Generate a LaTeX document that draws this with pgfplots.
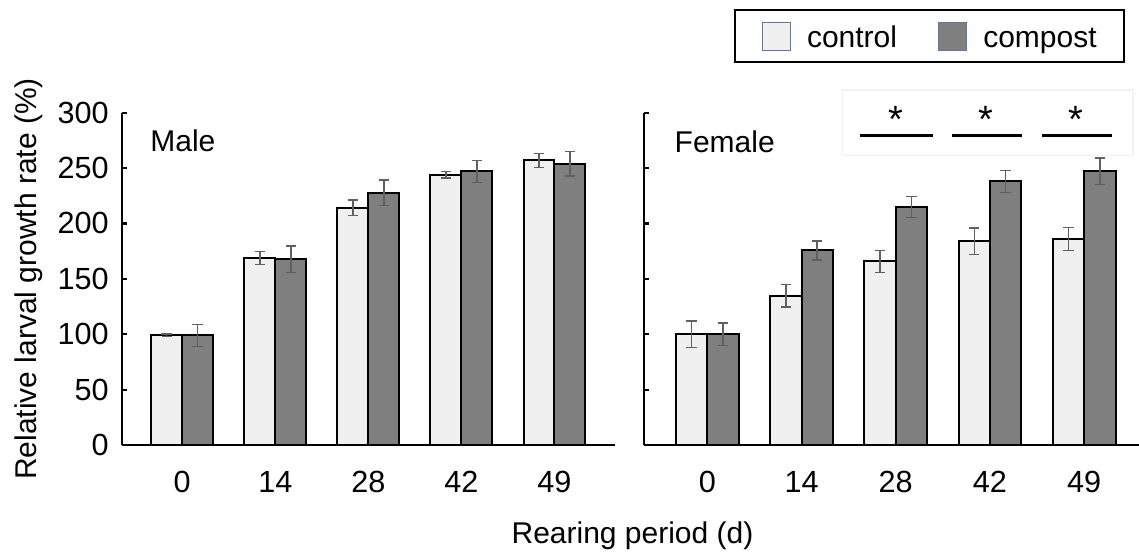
\documentclass[border=0pt]{standalone}
\usepackage{pgfplots}
\pgfplotsset{compat=1.18}
\usepackage{pgfplotstable}
\usepackage{fontspec}
\setmainfont{Liberation Sans}
\definecolor{ctrlfill}{HTML}{F0F0F0}
\definecolor{compfill}{HTML}{7F7F7F}
\definecolor{errcol}{HTML}{606060}
\definecolor{legborder}{HTML}{6A7690}

\pgfplotstableread{
x c ce p pe
0 99 1 99 10
1 168.8 6 167.6 12
2 214.3 7 227.8 11.5
3 244 3 247 10
4 257 6.3 254 11
}\male
\pgfplotstableread{
x c ce p pe
0 100 12 100 10
1 134.8 10 175.7 8.5
2 165.8 10 214.9 9.5
3 183.9 12 238 10
4 186 10.5 247 12
}\female

\pgfplotsset{
  panel/.style={
    scale only axis,
    height=166.15pt,
    ymin=0, ymax=300,
    axis x line*=bottom, axis y line*=left,
    axis line style={line width=1.1pt, black},
    ytick={0,50,...,300},
    xtick={0,1,2,3,4},
    xticklabels={0,14,28,42,49},
    xtick style={draw=none},
    ytick style={line width=1.1pt, black},
    major tick length=2.5pt,
    tick align=inside,
    /pgf/number format/assume math mode=true,
    tick label style={font=\fontsize{15.3}{18}\selectfont},
    yticklabel style={inner sep=0pt, anchor=east, xshift=-6.3pt},
    xticklabel style={inner sep=0pt, anchor=north, yshift=-13pt},
    clip=false,
  },
  ctrlbar/.style={ybar, bar width=0.333, bar shift=0pt, fill=ctrlfill, draw=black, line width=1pt},
  compbar/.style={ybar, bar width=0.333, bar shift=0pt, fill=compfill, draw=black, line width=1pt},
  errs/.style={error bars/.cd, y dir=both, y explicit,
    error bar style={errcol, line width=0.75pt},
    error mark options={rotate=90, mark size=2.6pt, errcol, line width=0.75pt}},
}

\begin{document}
\begin{tikzpicture}[font=\fontsize{15}{18}\selectfont]
\path[use as bounding box] (0,0) rectangle (569.5pt,277.5pt);

% Male
\begin{axis}[panel, at={(60.85pt,55pt)}, anchor=south west,
  width=246.65pt, xmin=-0.65, xmax=4.65,
  ylabel={Relative larval growth rate (\%)},
  every axis y label/.style={at={(axis description cs:-0.1737,0.5)}, rotate=90, anchor=base, font=\fontsize{15}{18}\selectfont}]
\addplot[ctrlbar, errs] table[x expr=\thisrow{x}-0.1665, y=c, y error=ce] {\male};
\addplot[compbar, errs] table[x expr=\thisrow{x}+0.1665, y=p, y error=pe] {\male};
\node[anchor=base west, inner sep=0pt] at (rel axis cs:0.0574,0.8826) {Male};
\end{axis}

% Female
\begin{axis}[panel, at={(322pt,55pt)}, anchor=south west,
  width=247.25pt, xmin=-0.672, xmax=4.577,
  yticklabels={},
  legend columns=2,
  legend style={at={(axis description cs:0.972,1.312)}, anchor=north east,
    draw=black, line width=1pt, inner xsep=13.5pt, inner ysep=5.8pt,
    font=\fontsize{15}{18}\selectfont,
    nodes={inner sep=0pt},
    cells={anchor=base west},
    /tikz/every odd column/.style={column sep=8pt},
    /tikz/every even column/.style={column sep=20.5pt}}]
\draw[black!5, line width=0.6pt] (rel axis cs:0.401,0.8706) rectangle (rel axis cs:0.989,1.068);
\addplot[ctrlbar, forget plot, errs] table[x expr=\thisrow{x}-0.1665, y=c, y error=ce] {\female};
\addplot[compbar, forget plot, errs] table[x expr=\thisrow{x}+0.1665, y=p, y error=pe] {\female};
\addplot[forget plot, black, line width=1.5pt, mark=none] coordinates {(1.621,279.4) (2.393,279.4)};
\addplot[forget plot, black, line width=1.5pt, mark=none] coordinates {(2.595,279.4) (3.338,279.4)};
\addplot[forget plot, black, line width=1.5pt, mark=none] coordinates {(3.553,279.4) (4.299,279.4)};
\node[anchor=base, inner sep=0pt, font=\fontsize{19}{22}\selectfont] at (axis cs:2.001,282) {*};
\node[anchor=base, inner sep=0pt, font=\fontsize{19}{22}\selectfont] at (axis cs:2.955,282) {*};
\node[anchor=base, inner sep=0pt, font=\fontsize{19}{22}\selectfont] at (axis cs:3.914,282) {*};
\node[anchor=base west, inner sep=0pt] at (rel axis cs:0.0613,0.8796) {Female};
\addlegendimage{legend image code/.code={\draw[fill=ctrlfill, draw=legborder, line width=0.6pt] (0pt,-1.5pt) rectangle (14pt,12.5pt);}}
\addlegendentry{control}
\addlegendimage{legend image code/.code={\draw[fill=compfill, draw=legborder, line width=0.6pt] (0pt,-1.5pt) rectangle (14pt,12.5pt);}}
\addlegendentry{compost}
\end{axis}

\node[anchor=base, inner sep=0pt] at (316.25pt,5.5pt) {Rearing period (d)};
\end{tikzpicture}
\end{document}
